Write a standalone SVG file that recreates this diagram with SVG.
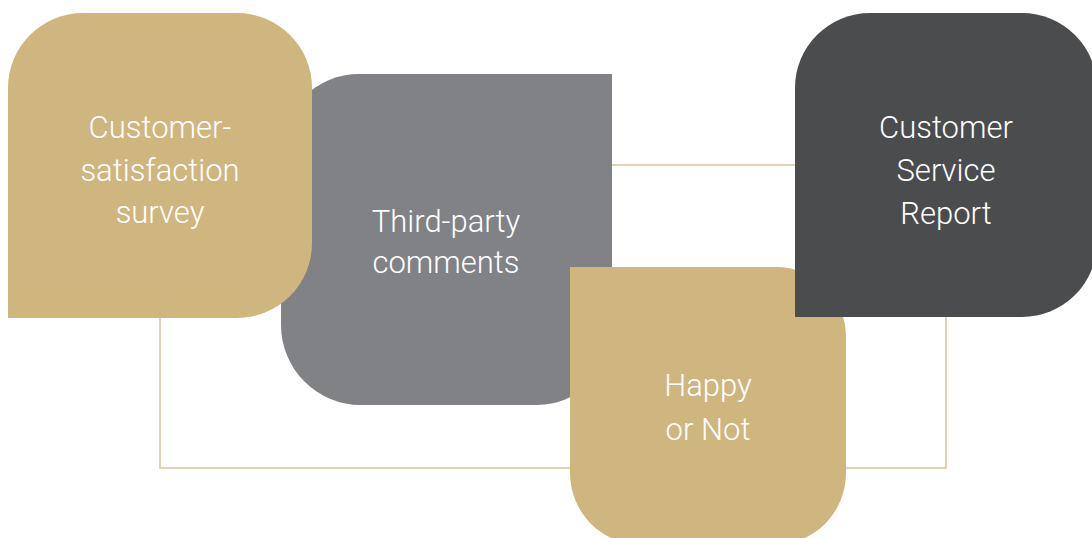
<svg xmlns="http://www.w3.org/2000/svg" width="1092" height="538" viewBox="0 0 1092 538">
<style>
.conn{fill:none;stroke:#d8c59c;stroke-width:1.5}
.tan{fill:#cfb67f}
.gray{fill:#818286}
.dark{fill:#4b4c4e}
.lbl{font-family:Roboto,"Liberation Sans",sans-serif;font-weight:300;font-size:31px;fill:#ffffff;text-anchor:middle}
</style>
<rect width="1092" height="538" fill="#ffffff"/>
<g id="connectors">
<polyline class="conn" points="160,318 160,468 946,468 946,317"/>
<line class="conn" x1="612" y1="165" x2="795" y2="165"/>
</g>
<g id="third-party">
<path class="gray" d="M612,74 V330 A75,75 0 0 1 537,405 H361 A80,80 0 0 1 281,325 V152 A78,78 0 0 1 359,74 Z"/>
<text class="lbl" x="446" y="232">Third-party</text>
<text class="lbl" x="446" y="273">comments</text>
</g>
<g id="survey">
<path class="tan" d="M8,318 V88 A75,75 0 0 1 83,13 H237 A75,75 0 0 1 312,88 V243 A75,75 0 0 1 237,318 Z"/>
<text class="lbl" x="160" y="138">Customer-</text>
<text class="lbl" x="160" y="181">satisfaction</text>
<text class="lbl" x="160" y="223">survey</text>
</g>
<g id="happy">
<path class="tan" d="M570,267 H776 A70,70 0 0 1 846,337 V473 A72,72 0 0 1 774,545 H642 A72,72 0 0 1 570,473 Z"/>
<text class="lbl" x="708" y="396">Happy</text>
<text class="lbl" x="708" y="440">or Not</text>
</g>
<g id="report">
<path class="dark" d="M795,317 V88 A75,75 0 0 1 870,13 H1022 A75,75 0 0 1 1097,88 V242 A75,75 0 0 1 1022,317 Z"/>
<text class="lbl" x="946" y="138">Customer</text>
<text class="lbl" x="946" y="181">Service</text>
<text class="lbl" x="946" y="224">Report</text>
</g>
</svg>
